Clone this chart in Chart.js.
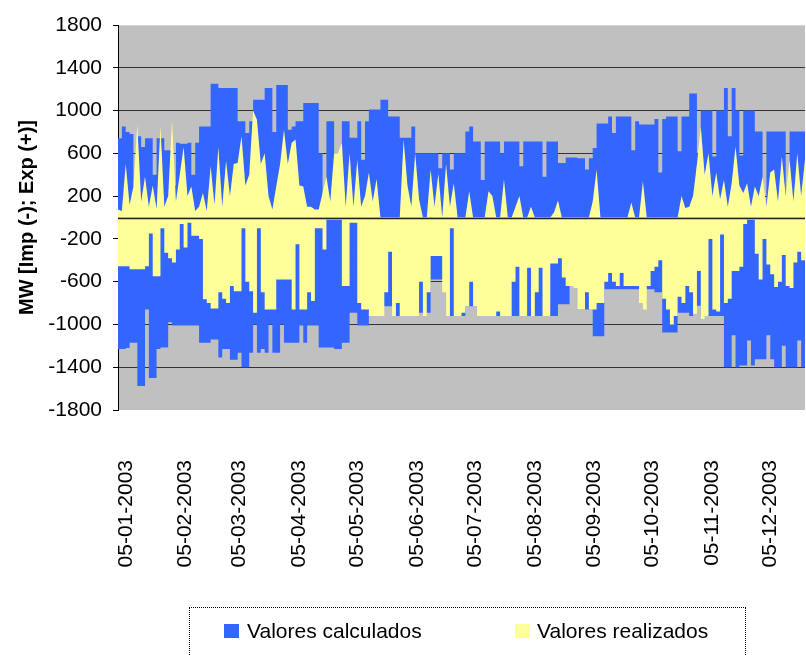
<!DOCTYPE html>
<html><head><meta charset="utf-8">
<script src="https://cdn.jsdelivr.net/npm/chart.js@4.4.0/dist/chart.umd.min.js"></script>
<style>
html,body{margin:0;padding:0;background:#fff}
#wrap{position:relative;width:806px;height:655px;overflow:hidden}
#legend{position:absolute;left:189px;top:607px;width:555px;height:70px;border:1px dotted #000;font:21px "Liberation Sans",Arial,sans-serif;color:#000}
.sw{position:absolute;top:16px;width:15px;height:14px}
.lt{position:absolute;top:10px;line-height:26px;white-space:nowrap}
</style></head>
<body>
<div id="wrap">
<canvas id="c" width="806" height="655"></canvas>
<div id="legend">
<span class="sw" style="left:34px;background:#3366ff"></span><span class="lt" style="left:57px">Valores calculados</span>
<span class="sw" style="left:325px;background:#ffff99"></span><span class="lt" style="left:347px">Valores realizados</span>
</div>
</div>
<script>
// one sample every 2 days, from 01-01-2003
const stepDays=2;
const blueMax=[740,850,800,780,300,760,660,740,740,400,
740,740,630,630,300,700,690,690,700,400,
700,850,850,850,1250,1250,1210,1210,1210,1210,
1210,900,900,790,900,1100,1100,1100,1210,1210,
800,1240,1240,1240,820,850,900,900,1070,1070,
1070,1070,600,200,900,900,600,600,900,900,
745,745,900,540,900,1010,1010,1010,1100,1100,
945,945,945,745,745,745,850,600,600,600,
600,600,600,460,600,600,450,600,600,600,
805,850,710,710,350,710,710,710,710,600,
710,710,710,710,480,710,710,710,710,710,
380,710,710,710,510,510,560,560,560,555,
555,450,555,650,880,880,880,945,790,945,
945,945,945,630,900,870,870,870,870,920,
420,920,945,945,945,620,945,945,1160,1160,
600,1000,1000,1000,570,1000,1000,1210,760,1210,
1000,580,1000,1000,1000,805,805,100,805,805,
805,805,805,60,805,805,805,805,805];
const blueMin=[-1230,-1230,-1220,-1170,-1170,-1575,-1575,-860,-1500,-1500,
-1230,-1215,-1215,-980,-1010,-1010,-1010,-1010,-1010,-1010,
-1010,-1170,-1170,-1170,-1140,-1140,-1310,-1230,-1230,-1330,
-1330,-1265,-1400,-1400,-1265,-1000,-1265,-1230,-1265,-1000,
-1265,-1265,-1000,-1170,-1170,-1170,-1170,-1010,-1170,-1010,
-1010,-1010,-1215,-1215,-1215,-1215,-1230,-1230,-1170,-1170,
-890,-890,-1010,-1010,-1010,-890,-890,-890,-830,-830,
-830,-830,-920,-920,-920,-920,-890,-890,-890,-890,
-890,-580,-580,-580,-580,-920,-920,-920,-920,-920,
-830,-830,-830,-920,-920,-920,-920,-920,-920,-920,
-920,-920,-920,-920,-920,-920,-920,-920,-920,-920,
-920,-920,-920,-920,-810,-810,-810,-640,-640,-860,
-860,-860,-860,-1110,-1110,-1110,-670,-670,-670,-670,
-670,-670,-670,-670,-670,-670,-670,-670,-670,-700,
-700,-1075,-1075,-1075,-1075,-890,-890,-890,-920,-825,
-825,-920,-920,-920,-920,-920,-920,-1400,-1400,-1100,
-1400,-1385,-1385,-1150,-1385,-1325,-1325,-1325,-1100,-1325,
-1400,-1400,-1200,-1400,-1400,-1400,-1150,-1400,-1400];
const yellowMax=[75,60,500,120,290,870,150,380,100,300,
80,860,100,200,910,150,400,660,200,290,
60,100,230,60,480,120,660,100,530,200,
500,510,760,300,400,1000,915,500,600,200,
75,290,500,820,500,700,730,300,290,100,
100,75,75,230,380,150,600,600,700,100,
600,100,540,100,200,420,150,360,0,0,
0,0,0,0,730,300,100,600,170,0,
0,450,100,410,0,500,100,320,0,0,
0,245,0,0,0,0,245,200,0,0,
355,0,0,100,200,0,0,100,0,0,
0,0,0,50,160,0,0,0,0,0,
0,0,0,150,450,0,0,0,0,0,
0,0,0,140,0,0,340,0,0,0,
0,0,0,0,0,0,200,90,100,200,
500,850,400,600,200,420,170,350,100,320,
665,300,230,320,100,290,200,380,100,420,
450,150,570,200,540,150,600,200,540];
const yellowMin=[-455,-455,-455,-485,-485,-485,-485,-455,-150,-550,
-550,-100,-330,-380,-420,-300,-60,-280,-50,-170,
-170,-200,-765,-800,-850,-850,-700,-760,-800,-640,
-690,-690,-100,-600,-690,-890,-100,-700,-860,-860,
-860,-580,-580,-580,-580,-860,-250,-860,-860,-700,
-780,-100,-100,-300,-20,-20,-20,-20,-640,-640,
-50,-50,-800,-860,-860,-920,-920,-920,-920,-700,
-320,-920,-800,-920,-920,-920,-920,-920,-600,-920,
-700,-360,-360,-360,-700,-920,-100,-920,-920,-890,
-830,-600,-830,-920,-920,-920,-920,-920,-880,-920,
-920,-920,-600,-460,-920,-920,-470,-920,-700,-470,
-920,-920,-430,-430,-380,-560,-640,-640,-660,-860,
-860,-700,-860,-860,-800,-800,-600,-520,-600,-640,
-520,-640,-640,-640,-640,-800,-860,-640,-500,-460,
-400,-760,-860,-1000,-920,-740,-800,-640,-700,-900,
-500,-950,-920,-200,-860,-880,-160,-800,-760,-500,
-500,-460,-60,-20,-20,-340,-580,-200,-440,-530,
-650,-600,-350,-640,-660,-420,-320,-400,-380];
const tickDays=[4,35,63,94,124,155,185,216,247,277,308,338];
const tickLabels=["05-01-2003","05-02-2003","05-03-2003","05-04-2003","05-05-2003","05-06-2003","05-07-2003","05-08-2003","05-09-2003","05-10-2003","05-11-2003","05-12-2003"];
const yTicks=[-1800,-1400,-1000,-600,-200,200,600,1000,1400,1800];

const FONT='"Liberation Sans", Arial, sans-serif';
const pts=arr=>arr.map((v,i)=>({x:i*stepDays,y:v}));
const area=(arr,color,order,stepped)=>({data:pts(arr),backgroundColor:color,borderWidth:0,pointRadius:0,fill:'origin',stepped,tension:0,order});

const plotBg={id:'plotBg',beforeDraw(c){const a=c.chartArea,x=c.ctx;x.save();x.fillStyle='#c0c0c0';x.fillRect(a.left,a.top,a.right-a.left,a.bottom-a.top);x.restore()}};
const zeroLine={id:'zeroLine',afterDatasetsDraw(c){const a=c.chartArea,x=c.ctx,y=Math.round(c.scales.y.getPixelForValue(0))+0.5;
  x.save();x.strokeStyle='#222';x.lineWidth=1.5;x.beginPath();x.moveTo(a.left,y);x.lineTo(a.right,y);x.stroke();x.restore()}};

new Chart(document.getElementById('c'),{
  type:'line',
  data:{datasets:[area(blueMax,'#3366ff',3,true),area(blueMin,'#3366ff',3,true),area(yellowMax,'#ffff99',1,false),area(yellowMin,'#ffff99',1,true)]},
  options:{
    responsive:false,animation:false,
    layout:{padding:{top:25,right:1,left:0,bottom:0}},
    plugins:{legend:{display:false},tooltip:{enabled:false}},
    scales:{
      x:{type:'linear',min:0,max:(blueMax.length-1)*stepDays,
        afterBuildTicks:s=>{s.ticks=tickDays.map(v=>({value:v}))},
        afterFit:s=>{s.height=245;s.paddingLeft=0;s.paddingRight=0},
        grid:{display:true,drawOnChartArea:false,color:'rgba(0,0,0,0)',tickLength:47},border:{display:false},
        ticks:{autoSkip:false,minRotation:90,maxRotation:90,padding:3,color:'#000',font:{family:FONT,size:21},
          callback:(v,i)=>tickLabels[i]}},
      y:{min:-1800,max:1800,
        afterBuildTicks:s=>{s.ticks=yTicks.map(v=>({value:v}))},
        afterFit:s=>{s.width=118},
        border:{display:true,color:'#000',width:1},
        grid:{color:c=>c.tick&&c.tick.value===1800?'#d4d4d4':(c.tick&&c.tick.value===-1800?'rgba(0,0,0,0)':'#333'),
          borderDash:[8,5],lineWidth:1,drawTicks:true,tickLength:5,tickColor:'#000',tickBorderDash:[]},
        ticks:{padding:11,color:'#000',font:{family:FONT,size:21},callback:v=>String(v)},
        title:{display:true,text:'MW [Imp (-); Exp (+)]',color:'#000',font:{family:FONT,size:20,weight:'bold'},padding:{top:15,bottom:0}}}
    }
  },
  plugins:[plotBg,zeroLine]
});
</script>
</body></html>
